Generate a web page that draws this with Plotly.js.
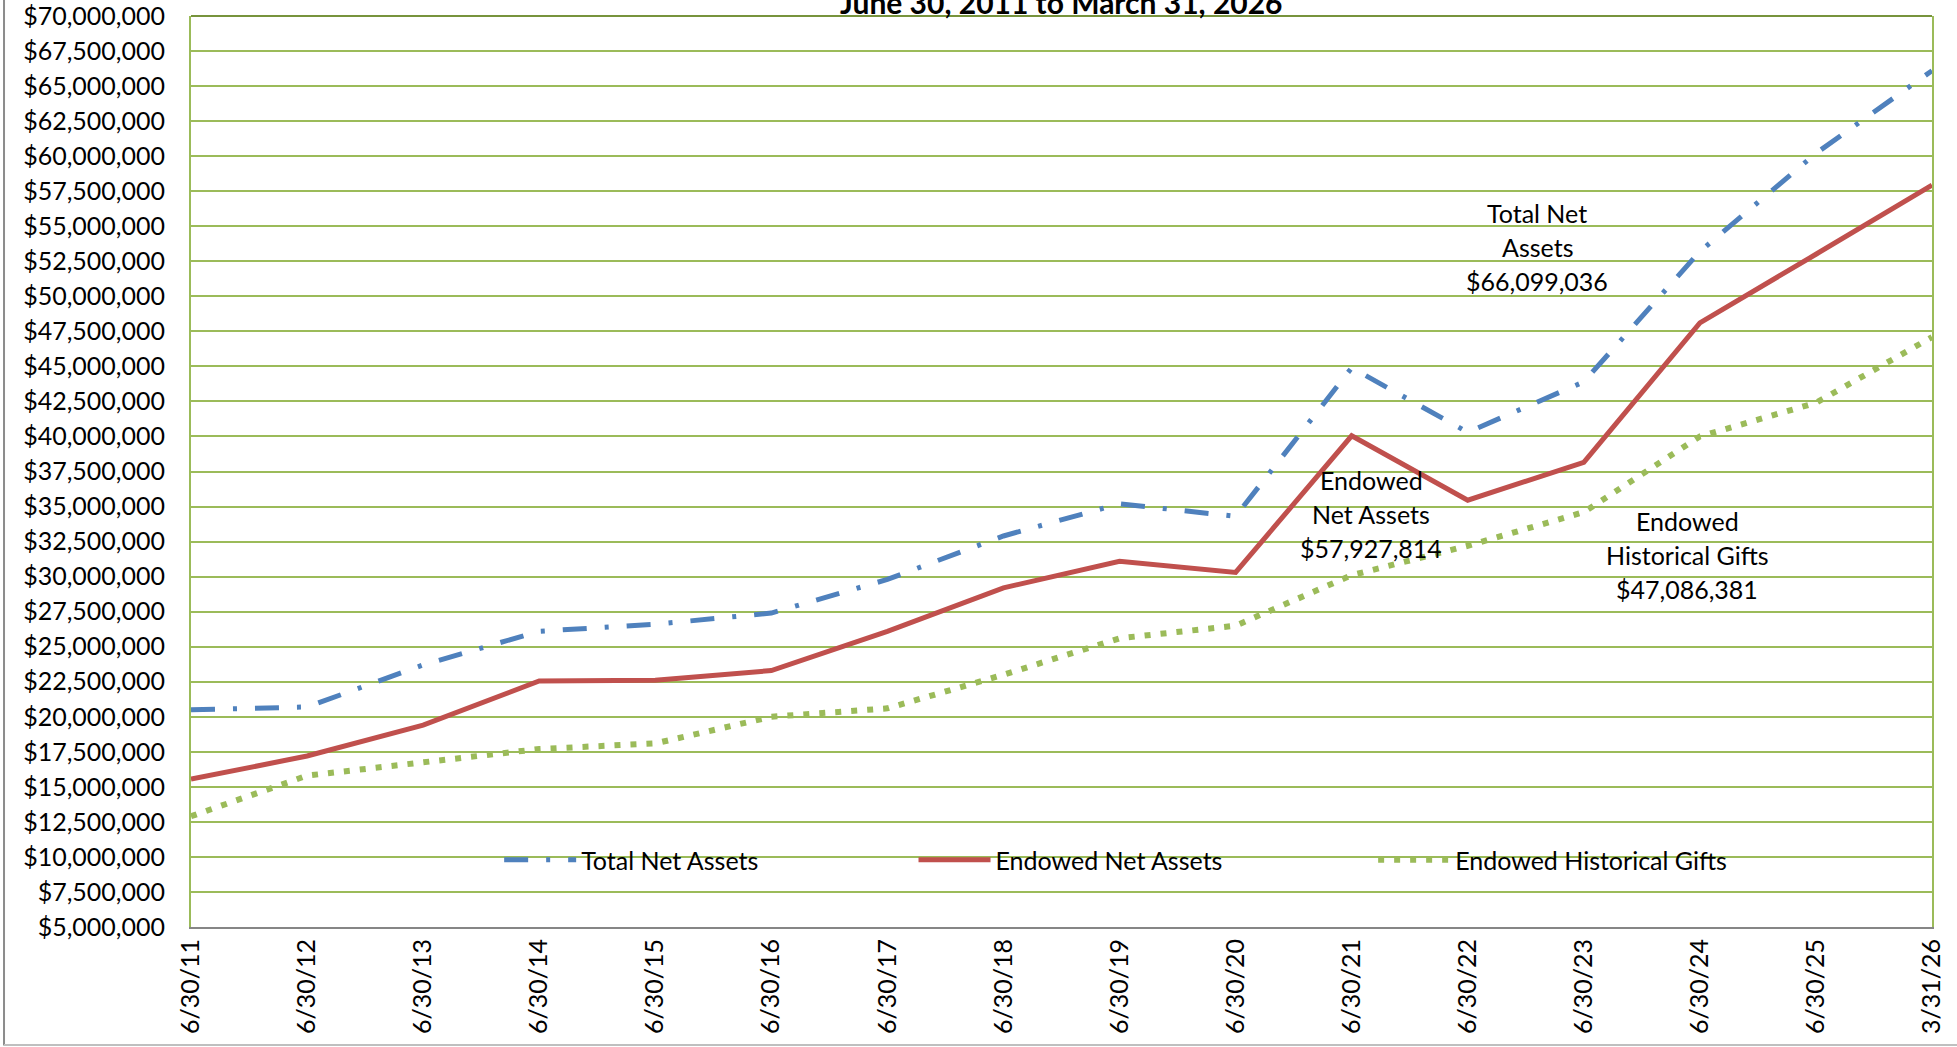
<!DOCTYPE html>
<html>
<head>
<meta charset="utf-8">
<script src="https://cdn.plot.ly/plotly-3.0.1.min.js"></script>
<style>
  html, body { margin: 0; padding: 0; background: #ffffff; }
  #chart { width: 1957px; height: 1047px; }
</style>
</head>
<body>
<div id="chart"></div>
<script>
// ---- Data ----
const categories = ['6/30/11','6/30/12','6/30/13','6/30/14','6/30/15','6/30/16','6/30/17','6/30/18',
                    '6/30/19','6/30/20','6/30/21','6/30/22','6/30/23','6/30/24','6/30/25','3/31/26'];
const totalNetAssets = [20500000, 20700000, 23700000, 26100000, 26600000, 27400000, 29800000, 32900000,
                        35200000, 34300000, 44900000, 40300000, 43900000, 53200000, 60200000, 66099036];
const endowedNetAssets = [15550000, 17200000, 19400000, 22550000, 22600000, 23300000, 26100000, 29200000,
                          31100000, 30300000, 40050000, 35450000, 38150000, 48100000, 53000000, 57927814];
const endowedHistoricalGifts = [12900000, 15800000, 16750000, 17700000, 18100000, 20000000, 20600000, 23000000,
                                25600000, 26500000, 30100000, 32200000, 34600000, 40000000, 42400000, 47086381];
const seriesNames = ['Total Net Assets', 'Endowed Net Assets', 'Endowed Historical Gifts'];
const titleText = 'June 30, 2011 to March 31, 2026';
const labelLines = [
  ['Total Net', 'Assets', '$66,099,036'],
  ['Endowed', 'Net Assets', '$57,927,814'],
  ['Endowed', 'Historical Gifts', '$47,086,381']
];
const labelAnchors = [ [11.6, 53500000], [10.17, 34500000], [12.89, 31570000] ];

// ---- Styles ----
const FONT = 'Lato, "Open Sans", sans-serif';
const GRID = '#9BBB59';
const FS = 25;

const traces = [
  { x: categories, y: totalNetAssets, name: seriesNames[0], type: 'scatter', mode: 'lines',
    line: { color: '#4F81BD', width: 5, dash: '24px,18px,4px,18px' }, legend: 'legend' },
  { x: categories, y: endowedNetAssets, name: seriesNames[1], type: 'scatter', mode: 'lines',
    line: { color: '#C0504D', width: 5 }, legend: 'legend2' },
  { x: categories, y: endowedHistoricalGifts, name: seriesNames[2], type: 'scatter', mode: 'lines',
    line: { color: '#9BBB59', width: 6, dash: '6px,10px' }, legend: 'legend3' }
];

const annotations = [];
labelLines.forEach((lines, i) => {
  lines.forEach((t, j) => {
    annotations.push({
      text: t, xref: 'x', yref: 'y', x: labelAnchors[i][0], y: labelAnchors[i][1],
      yshift: (1 - j) * 34, showarrow: false, xanchor: 'center', yanchor: 'middle',
      font: { family: FONT, size: FS, color: '#000000' }
    });
  });
});
annotations.push({
  text: '<b>' + titleText + '</b>', xref: 'paper', yref: 'paper', x: 0.5, y: 0.993,
  xanchor: 'center', yanchor: 'bottom', showarrow: false,
  font: { family: FONT, size: 30, color: '#000000' }
});

const legendBase = { orientation: 'h', yanchor: 'middle', y: 0.0735, xanchor: 'left',
  bgcolor: 'rgba(0,0,0,0)', borderwidth: 0, itemwidth: 72,
  font: { family: FONT, size: FS, color: '#000000' } };

const layout = {
  width: 1957, height: 1047,
  margin: { l: 191, r: 25, t: 16, b: 120, pad: 0 },
  paper_bgcolor: '#ffffff', plot_bgcolor: '#ffffff',
  font: { family: FONT, size: FS, color: '#000000' },
  showlegend: true,
  legend: Object.assign({}, legendBase, { x: 0.177 }),
  legend2: Object.assign({}, legendBase, { x: 0.415 }),
  legend3: Object.assign({}, legendBase, { x: 0.679 }),
  xaxis: {
    type: 'category', range: [0, 15], showgrid: false, zeroline: false,
    showline: true, linecolor: '#868686', linewidth: 2,
    tickangle: -90, ticks: '', tickfont: { family: FONT, size: FS, color: '#000000' },
    ticklabelstandoff: 0, ticklabeloverflow: 'allow'
  },
  yaxis: {
    range: [5000000, 70000000], tick0: 5000000, dtick: 2500000, tickformat: '$,.0f',
    showgrid: true, gridcolor: GRID, gridwidth: 2, zeroline: false,
    showline: true, linecolor: GRID, linewidth: 2, mirror: true,
    ticks: '', tickfont: { family: FONT, size: FS, color: '#000000' },
    ticklabelstandoff: 19, ticklabeloverflow: 'allow'
  },
  shapes: [
    { type: 'line', xref: 'paper', yref: 'paper', x0: 0, x1: 1, y0: 1, y1: 1,
      line: { color: '#77933C', width: 2 } },
    { type: 'line', xref: 'paper', yref: 'paper', x0: -0.1074, x1: -0.1074, y0: -0.13, y1: 1.02,
      line: { color: '#8C8C8C', width: 2 } },
    { type: 'line', xref: 'paper', yref: 'paper', x0: -0.1074, x1: 1.02, y0: -0.1295, y1: -0.1295,
      line: { color: '#BFBFBF', width: 2 } }
  ],
  annotations: annotations
};

Plotly.newPlot('chart', traces, layout, { displayModeBar: false, staticPlot: true });
</script>
</body>
</html>
